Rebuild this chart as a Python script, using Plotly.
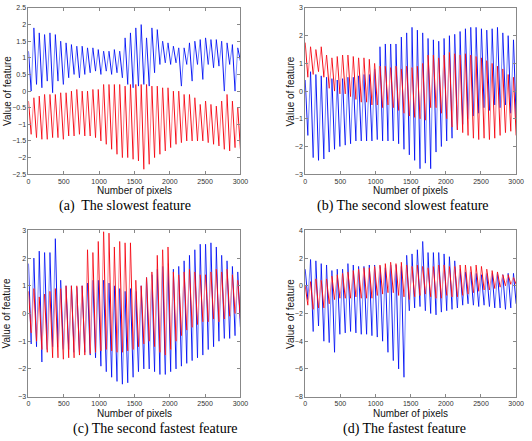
import numpy as np
import plotly.graph_objects as go

x_max = 3000
x_ticks = [0, 500, 1000, 1500, 2000, 2500, 3000]

# ---- panel (a): the slowest feature ----
a_blue_hi = [1.2, 1.9, 1.75, 1.7, 1.75, 1.7, 1.5, 1.45, 1.4, 1.35, 1.35, 1.3, 1.3, 1.25, 1.2, 1.2, 1.25, 1.2, 1.6, 1.75,
             1.9, 2.0, 1.6, 1.9, 1.85, 1.5, 1.45, 1.35, 1.3, 1.3, 1.45, 1.5, 1.55, 1.6, 1.55, 1.55, 1.5, 1.45, 1.4, 1.3]
a_blue_lo = [0.0, 0.2, 0.1, 0.3, -0.05, 0.3, 0.2, 0.4, 0.5, 0.4, 0.5, 0.55, 0.6, 0.5, 0.6, 0.5, 0.55, 0.4, 0.2, 0.1,
             0.15, 0.2, 0.15, 0.55, 0.8, 0.85, 0.8, 0.85, 0.15, 0.8, 0.3, 0.8, 0.35, 0.8, 0.7, 0.75, 0.0, 0.8, 0.0, 0.9]
a_red_hi = [-0.3, -0.2, -0.15, -0.1, -0.1, -0.1, -0.05, -0.05, 0.0, 0.05, 0.0, 0.0, 0.05, 0.05, 0.2, 0.2, 0.2, 0.2, 0.15, 0.2,
            0.2, 0.2, 0.2, 0.15, 0.15, 0.1, 0.1, 0.0, 0.0, -0.1, -0.1, -0.2, -0.4, -0.3, -0.4, -0.45, -0.3, -0.1, -0.3, -0.5]
a_red_lo = [-1.3, -1.4, -1.45, -1.45, -1.4, -1.4, -1.45, -1.35, -1.35, -1.3, -1.35, -1.35, -1.4, -1.5, -1.6, -1.75, -1.9, -2.0, -2.0, -2.05,
            -2.1, -2.35, -2.2, -2.0, -1.9, -1.8, -1.7, -1.6, -1.55, -1.5, -1.5, -1.5, -1.5, -1.55, -1.6, -1.65, -1.75, -1.8, -1.7, -1.75]

# ---- panel (b): the second slowest feature ----
b_blue_hi = [0.4, 0.7, 0.6, 0.55, 0.5, 0.45, 0.4, 0.45, 0.5, 0.5, 0.55, 0.6, 0.6, 0.8, 1.6, 1.7, 1.7, 1.7, 1.95, 2.1,
             2.3, 2.2, 2.1, 1.9, 1.85, 1.8, 1.9, 2.0, 2.05, 2.15, 2.25, 2.3, 2.3, 2.25, 2.2, 2.25, 2.3, 2.1, 2.0, 1.85]
b_blue_lo = [-1.6, -2.4, -2.5, -2.45, -2.2, -2.1, -2.0, -1.95, -1.9, -1.8, -1.8, -1.8, -1.8, -1.75, -1.8, -1.8, -1.8, -1.9, -2.1, -2.3,
             -2.5, -2.8, -2.6, -2.8, -2.2, -2.0, -1.8, -1.7, -1.4, -1.2, -1.0, -0.9, -0.8, -0.6, -0.7, -0.5, -0.6, -0.5, -0.8, -1.0]
b_red_hi = [1.75, 1.6, 1.5, 1.6, 1.3, 1.2, 1.25, 1.3, 1.3, 1.25, 1.2, 1.2, 1.15, 1.0, 0.9, 0.9, 0.85, 0.9, 0.8, 0.9,
            0.85, 0.9, 1.0, 1.3, 1.3, 1.2, 1.3, 1.4, 1.35, 1.3, 1.35, 1.3, 1.25, 1.2, 1.1, 1.0, 0.9, 0.8, 0.6, 0.5]
b_red_lo = [0.5, 0.6, 0.7, 0.5, 0.1, 0.0, -0.1, -0.1, -0.2, -0.3, -0.4, -0.4, -0.5, -0.5, -0.6, -0.5, -0.6, -0.7, -0.8, -0.9,
            -0.95, -1.0, -1.05, -0.6, -0.6, -0.8, -1.0, -1.3, -1.4, -1.5, -1.6, -1.7, -1.75, -1.7, -1.75, -1.7, -1.6, -1.5, -1.45, -1.6]

# ---- panel (c): the second fastest feature ----
c_blue_hi = [1.8, 2.0, 2.25, 2.2, 2.2, 2.7, 1.2, 1.0, 1.0, 0.95, 1.0, 1.1, 1.2, 1.2, 1.2, 1.1, 1.0, 0.9, 0.8, 0.9,
             0.8, 1.0, 1.3, 1.4, 1.6, 1.7, 1.8, 1.6, 1.7, 1.9, 2.1, 2.3, 2.5, 2.5, 2.55, 2.4, 2.1, 1.9, 1.7, 1.5]
c_blue_lo = [-1.1, -1.2, -1.75, -1.3, -1.2, -1.2, -1.3, -1.3, -1.4, -1.4, -1.4, -1.5, -1.6, -1.9, -2.1, -2.3, -2.45, -2.55, -2.5, -2.3,
             -2.1, -2.0, -2.0, -2.1, -2.2, -2.2, -2.1, -2.0, -1.9, -1.8, -1.7, -1.6, -1.5, -1.3, -1.2, -1.0, -0.9, -0.9, -0.8, -0.5]
c_red_hi = [0.8, 0.9, 0.6, 0.7, 0.8, 0.9, 0.9, 1.0, 1.0, 1.0, 1.0, 2.3, 2.2, 2.6, 2.95, 2.9, 2.4, 2.6, 2.55, 2.55,
            1.2, 1.0, 1.3, 1.5, 2.1, 2.3, 2.4, 1.5, 1.4, 1.5, 1.6, 1.5, 1.4, 1.4, 1.5, 1.6, 1.5, 1.6, 1.4, 1.2]
c_red_lo = [-0.7, -1.0, -1.3, -1.4, -1.6, -1.6, -1.65, -1.6, -1.6, -1.5, -1.5, -1.45, -1.4, -1.35, -1.3, -1.35, -1.4, -1.4, -1.35, -1.3,
            -1.2, -1.1, -1.0, -1.2, -1.4, -1.5, -1.3, -1.0, -0.8, -0.6, -0.5, -0.4, -0.3, -0.3, -0.2, -0.3, -0.2, -0.1, 0.0, -0.2]

# ---- panel (d): the fastest feature ----
d_blue_hi = [1.2, 1.9, 1.8, 1.6, 1.5, 1.1, 1.2, 1.2, 1.6, 1.5, 1.4, 1.4, 1.5, 1.5, 1.4, 1.3, 1.5, 1.5, 1.4, 2.2,
             2.3, 2.6, 3.2, 2.4, 2.4, 2.4, 2.3, 2.1, 1.8, 1.2, 1.0, 1.0, 0.9, 0.8, 0.9, 0.9, 0.9, 0.8, 0.9, 0.9]
d_blue_lo = [-1.0, -3.3, -2.9, -4.0, -4.1, -4.8, -3.5, -3.4, -3.3, -3.4, -3.5, -3.5, -3.6, -3.7, -4.0, -4.8, -5.4, -6.0, -6.6, -1.8,
             -1.6, -1.5, -1.8, -2.0, -2.1, -1.9, -1.8, -1.7, -1.6, -1.4, -1.3, -1.4, -1.5, -1.4, -1.5, -1.6, -1.6, -1.7, -1.6, -1.3]
d_red_hi = [0.0, 0.3, 0.5, 0.4, 0.5, 0.7, 0.8, 0.9, 1.0, 1.1, 1.2, 1.3, 1.3, 1.4, 1.5, 1.6, 1.7, 1.6, 1.7, 1.5,
            1.4, 1.5, 1.4, 1.3, 1.4, 1.5, 1.5, 1.4, 1.4, 1.5, 1.5, 1.4, 1.5, 1.4, 1.2, 1.1, 1.0, 0.8, 0.8, 0.6]
d_red_lo = [-1.4, -1.7, -1.6, -1.6, -1.3, -1.0, -0.9, -0.9, -0.9, -0.8, -0.9, -0.9, -0.9, -0.7, -0.6, -0.5, -0.5, -0.7, -0.8, -1.0,
            -0.8, -0.7, -0.6, -0.8, -0.9, -0.9, -0.7, -0.8, -0.8, -0.7, -0.6, -0.5, -0.4, -0.3, -0.3, -0.2, -0.1, 0.0, 0.1, 0.1]

captions = ["(a)  The slowest feature", "(b) The second slowest feature",
            "(c) The second fastest feature", "(d) The fastest feature"]
y_ranges = [[-2.5, 2.5], [-3, 3], [-3, 3], [-8, 4]]
y_dticks = [0.5, 1, 1, 2]

panels = [
    (a_blue_hi, a_blue_lo, a_red_hi, a_red_lo),
    (b_blue_hi, b_blue_lo, b_red_hi, b_red_lo),
    (c_blue_hi, c_blue_lo, c_red_hi, c_red_lo),
    (d_blue_hi, d_blue_lo, d_red_hi, d_red_lo),
]

W, H = 532, 441
# pixel boxes for each axes: left, right, top, bottom
boxes = [(27, 243, 4, 173), (309, 524, 4, 173), (27, 243, 230, 399), (309, 524, 230, 399)]


def strokes(hi, lo):
    n = len(hi)
    xs = np.linspace(0, x_max, 2 * n)
    xh, xl = xs[0::2], xs[1::2]
    dx, dy, lx, ly = [], [], [], []
    for i in range(n):
        dx += [xh[i], xl[i], None]
        dy += [hi[i], lo[i], None]
        if i + 1 < n:
            lx += [xl[i], xh[i + 1], None]
            ly += [lo[i], hi[i + 1], None]
    return dx, dy, lx, ly


fig = go.Figure()
tick_font = dict(family="Liberation Sans, Arial", size=7, color="#333")
annotations = []
for k, (bh, bl, rh, rl) in enumerate(panels):
    suffix = "" if k == 0 else str(k + 1)
    xa, ya = "x" + suffix, "y" + suffix
    L, R, T, B = boxes[k]
    for hi, lo, dark, light in [(bh, bl, "rgb(10,20,245)", "rgb(120,140,255)"),
                                (rh, rl, "rgb(245,10,20)", "rgb(255,130,140)")]:
        dx, dy, lx, ly = strokes(hi, lo)
        fig.add_trace(go.Scatter(x=lx, y=ly, mode="lines", line=dict(color=light, width=1),
                                 xaxis=xa, yaxis=ya, showlegend=False, hoverinfo="skip"))
        fig.add_trace(go.Scatter(x=dx, y=dy, mode="lines", line=dict(color=dark, width=1),
                                 xaxis=xa, yaxis=ya, showlegend=False, hoverinfo="skip"))
    common = dict(showgrid=False, zeroline=False, showline=True, linecolor="#888", linewidth=1,
                  mirror="ticks", ticks="inside", ticklen=3, tickcolor="#888", tickfont=tick_font)
    fig.layout["xaxis" + suffix] = dict(domain=[L / W, R / W], anchor=ya, range=[0, x_max],
                                        tickvals=x_ticks, **common)
    fig.layout["yaxis" + suffix] = dict(domain=[1 - B / H, 1 - T / H], anchor=xa, range=y_ranges[k],
                                        dtick=y_dticks[k], tick0=y_ranges[k][0], **common)
    cx = (L + R) / 2
    annotations.append(dict(text="Number of pixels", x=cx / W, y=1 - (B + 17) / H, xref="paper", yref="paper",
                            xanchor="center", yanchor="middle", showarrow=False,
                            font=dict(family="Liberation Sans, Arial", size=10, color="#111")))
    ylx = L - 22 if k % 2 == 0 else L - 15
    annotations.append(dict(text="Value of feature", x=ylx / W, y=1 - (T + B) / 2 / H, xref="paper", yref="paper",
                            xanchor="center", yanchor="middle", showarrow=False, textangle=-90,
                            font=dict(family="Liberation Sans, Arial", size=10, color="#111")))
    cap_x = [125, 409, 156, 410][k]
    cap_y = [205, 205, 432, 432][k]
    annotations.append(dict(text=captions[k], x=cap_x / W, y=1 - cap_y / H, xref="paper", yref="paper",
                            xanchor="center", yanchor="middle", showarrow=False,
                            font=dict(family="Liberation Serif, Times New Roman", size=14, color="#000")))

fig.update_layout(width=W, height=H, margin=dict(l=0, r=0, t=0, b=0), paper_bgcolor="white",
                  plot_bgcolor="white", annotations=annotations, showlegend=False)
fig.write_html("out.html", config={"displayModeBar": False},
               post_script="document.body.style.margin='0px';")
